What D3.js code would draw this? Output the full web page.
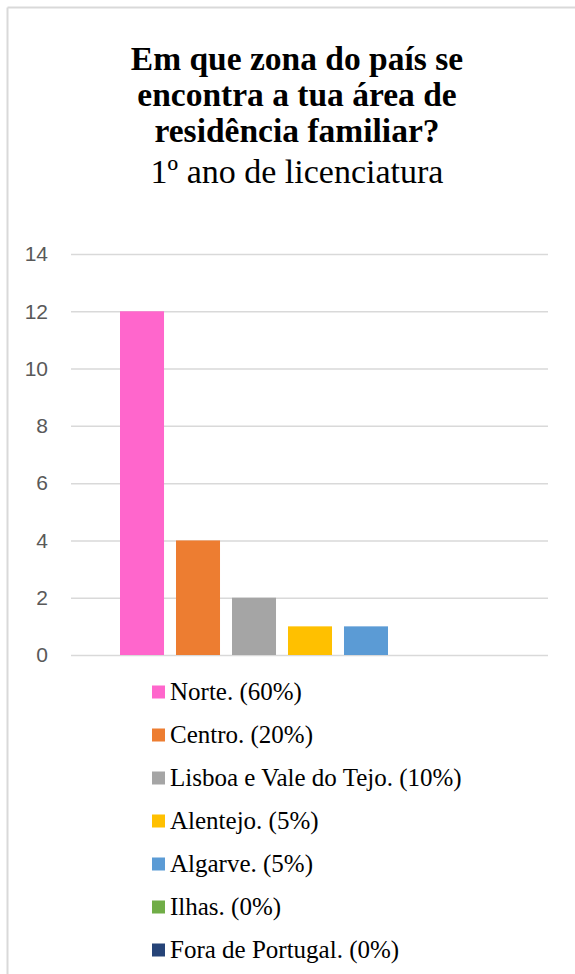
<!DOCTYPE html>
<html>
<head>
<meta charset="utf-8">
<script src="https://cdn.jsdelivr.net/npm/d3@7"></script>
<style>
  html, body { margin: 0; padding: 0; background: #ffffff; }
  svg { display: block; }
</style>
</head>
<body>
<svg id="chart" width="575" height="974"></svg>
<script>
const titleLines = ["Em que zona do país se", "encontra a tua área de", "residência familiar?"];
const subtitle = "1º ano de licenciatura";
const seriesNames = ["Norte. (60%)", "Centro. (20%)", "Lisboa e Vale do Tejo. (10%)", "Alentejo. (5%)", "Algarve. (5%)", "Ilhas. (0%)", "Fora de Portugal. (0%)"];
const seriesValues = [12, 4, 2, 1, 1, 0, 0];
const seriesColors = ["#FF66CC", "#ED7D31", "#A5A5A5", "#FFC000", "#5B9BD5", "#70AD47", "#264478"];
const yTicks = [0, 2, 4, 6, 8, 10, 12, 14];

const svg = d3.select("#chart");

// chart border (top and left visible)
svg.append("line").attr("x1", 7.5).attr("x2", 575).attr("y1", 7.5).attr("y2", 7.5)
  .attr("stroke", "#d9d9d9").attr("stroke-width", 2);
svg.append("line").attr("x1", 7.5).attr("x2", 7.5).attr("y1", 7.5).attr("y2", 974)
  .attr("stroke", "#d9d9d9").attr("stroke-width", 2);

// title
const cx = 297;
const title = svg.append("g").attr("font-family", "'Liberation Serif', 'Times New Roman', serif").attr("fill", "#000");
titleLines.forEach((t, i) => {
  title.append("text").attr("x", cx).attr("y", 70 + i * 36)
    .attr("text-anchor", "middle").attr("font-size", 33.5).attr("font-weight", "bold").text(t);
});
title.append("text").attr("x", cx).attr("y", 183)
  .attr("text-anchor", "middle").attr("font-size", 34).text(subtitle);

// scales
const plotLeft = 71, plotRight = 548;
const y = d3.scaleLinear().domain([0, 14]).range([655, 254]);
const x = d3.scaleBand().domain(seriesNames).range([120, 500]).paddingInner(0.214).paddingOuter(0);

// gridlines
const yAxis = d3.axisLeft(y).tickValues(yTicks).tickSize(-(plotRight - plotLeft)).tickPadding(23);
const ga = svg.append("g").attr("transform", `translate(${plotLeft},0)`).call(yAxis);
ga.select(".domain").remove();
ga.selectAll(".tick line").attr("stroke", "#d9d9d9").attr("stroke-width", 1.5);
ga.selectAll(".tick text").attr("fill", "#595959").style("font-size", "21px")
  .style("font-family", "'Liberation Sans', Arial, sans-serif");

// bars
svg.append("g").selectAll("rect").data(seriesNames).join("rect")
  .attr("x", d => x(d))
  .attr("width", x.bandwidth())
  .attr("y", (d, i) => y(seriesValues[i]))
  .attr("height", (d, i) => y(0) - y(seriesValues[i]))
  .attr("fill", (d, i) => seriesColors[i]);

// legend
const lg = svg.append("g");
seriesNames.forEach((name, i) => {
  const cy = 692 + i * 43;
  lg.append("rect").attr("x", 152).attr("y", cy - 6.5).attr("width", 13).attr("height", 13).attr("fill", seriesColors[i]);
  lg.append("text").attr("x", 170).attr("y", cy + 8)
    .attr("font-family", "'Liberation Serif', 'Times New Roman', serif")
    .attr("font-size", 25).attr("fill", "#000").text(name);
});
</script>
</body>
</html>
